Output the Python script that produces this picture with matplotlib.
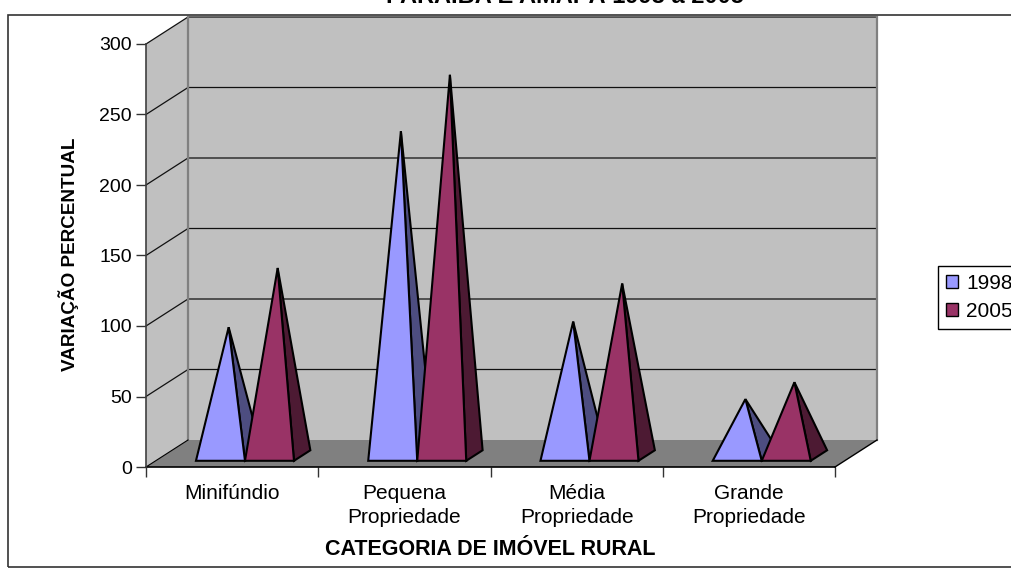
import numpy as np
from matplotlib import pyplot as plt
from matplotlib.patches import Polygon, Rectangle

categories = ['Minifúndio', 'Pequena\nPropriedade', 'Média\nPropriedade',
              'Grande\nPropriedade']
values_1998 = [91, 230, 95, 40]
values_2005 = [133, 270, 122, 52]
years = ['1998', '2005']
y_ticks = [0, 50, 100, 150, 200, 250, 300]

plt.rcParams['font.family'] = ['Liberation Sans', 'DejaVu Sans']

W, H = 1011, 568
fig = plt.figure(figsize=(W / 100, H / 100), dpi=100)
ax = fig.add_axes([146 / W, 1 - 467 / H, 689 / W, 423 / H])
ax.set_xlim(0, 4)
ax.set_ylim(0, 300)
for s in ax.spines.values():
    s.set_visible(False)
ax.patch.set_visible(False)

# depth of the 3d box, in data units
dx = 42 / 689 * 4
dy = 27 / 423 * 300
top = 300 + dy

"""-------------------------------- Walls --------------------------------"""

ax.add_patch(Polygon([(0, 0), (dx, dy), (dx, top), (0, 300)], fc='#c0c0c0',
                     ec='none', clip_on=False, zorder=1))
ax.add_patch(Polygon([(dx, dy), (4 + dx, dy), (4 + dx, top), (dx, top)],
                     fc='#c0c0c0', ec='none', clip_on=False, zorder=1))
ax.add_patch(Polygon([(0, 0), (4, 0), (4 + dx, dy), (dx, dy)], fc='#808080',
                     ec='none', clip_on=False, zorder=1))

for v in y_ticks[1:]:
    ax.plot([0, dx, 4 + dx], [v, v + dy, v + dy], color='#111111', lw=0.9,
            clip_on=False, zorder=2)
ax.plot([dx, dx], [dy, top], color='#808080', lw=1.6, clip_on=False, zorder=2)
ax.plot([4 + dx, 4 + dx], [dy, top], color='#808080', lw=1.6, clip_on=False,
        zorder=2)
ax.plot([0, dx], [0, dy], color='black', lw=0.8, clip_on=False, zorder=2)
ax.plot([4, 4 + dx], [0, dy], color='black', lw=1, clip_on=False, zorder=2)
ax.plot([0, 4], [0, 0], color='black', lw=1.2, clip_on=False, zorder=2)
ax.plot([0, 0], [0, 300], color='#404040', lw=1.2, clip_on=False, zorder=2)

"""------------------------------- Pyramids -------------------------------"""

bar_w = 0.2845
gap = 0.234
d_front, d_back = 0.23, 0.62
d_mid = (d_front + d_back) / 2
series = [(values_1998, '#9999ff', '#4d4d80'), (values_2005, '#993366',
                                                '#4d1a33')]
z = 3
for i in range(len(categories)):
    for j, (vals, face, side) in enumerate(series):
        x0 = i + gap + j * bar_w
        x1 = x0 + bar_w
        xm = (x0 + x1) / 2
        base_y = dy * d_front
        apex = (xm + dx * d_mid, vals[i] + dy * d_mid)
        ax.add_patch(Polygon([(x1 + dx * d_front, base_y),
                              (x1 + dx * d_back, dy * d_back), apex],
                             fc=side, ec='black', lw=1.5, joinstyle='miter',
                             clip_on=False, zorder=z))
        ax.add_patch(Polygon([(x0 + dx * d_front, base_y),
                              (x1 + dx * d_front, base_y), apex],
                             fc=face, ec='black', lw=1.5, joinstyle='miter',
                             clip_on=False, zorder=z))
        z += 1

"""-------------------------------- Axes --------------------------------"""

ax.set_xticks(np.arange(5))
ax.set_xticklabels([])
ax.set_xticks(np.arange(4) + 0.5, labels=categories, minor=True)
ax.tick_params(axis='x', which='major', length=7, width=1, color='#333333')
ax.tick_params(axis='x', which='minor', length=0, pad=12, labelsize=15)
for t in ax.get_xticklabels(minor=True):
    t.set_linespacing(1.33)
ax.set_yticks(y_ticks)
ax.tick_params(axis='y', length=7, width=1, color='#333333', pad=3,
               labelsize=14)

fig.text(490.5 / W, 1 - 555 / H, 'CATEGORIA DE IMÓVEL RURAL', ha='center',
         va='baseline', fontsize=15.5, fontweight='bold')
fig.text(69 / W, 1 - 254 / H, 'VARIAÇÃO PERCENTUAL', ha='center', va='center',
         rotation=90, fontsize=13.6, fontweight='bold')
# title is cut by the top edge in the original too
fig.text(565 / W, 1 - 3 / H, 'PARAÍBA E AMAPÁ 1998 a 2005', ha='center',
         va='baseline', fontsize=17, fontweight='bold')

# chart border runs off the right side of the picture
fig.add_artist(Rectangle((8 / W, 1 - 567 / H), 1.1, 552 / H, fc='none',
                         ec='#333333', lw=1.2, transform=fig.transFigure))

handles = [Rectangle((0, 0), 1, 1, fc=s[1], ec='black', lw=1) for s in series]
fig.legend(handles, years, loc='upper left',
           bbox_to_anchor=(938 / W, 1 - 266 / H), fontsize=15, frameon=True,
           fancybox=False, framealpha=1, edgecolor='black', handlelength=0.58,
           handleheight=0.58, handletextpad=0.38, borderpad=0.38,
           borderaxespad=0, labelspacing=0.45)

fig.savefig('out.png', dpi=100)
